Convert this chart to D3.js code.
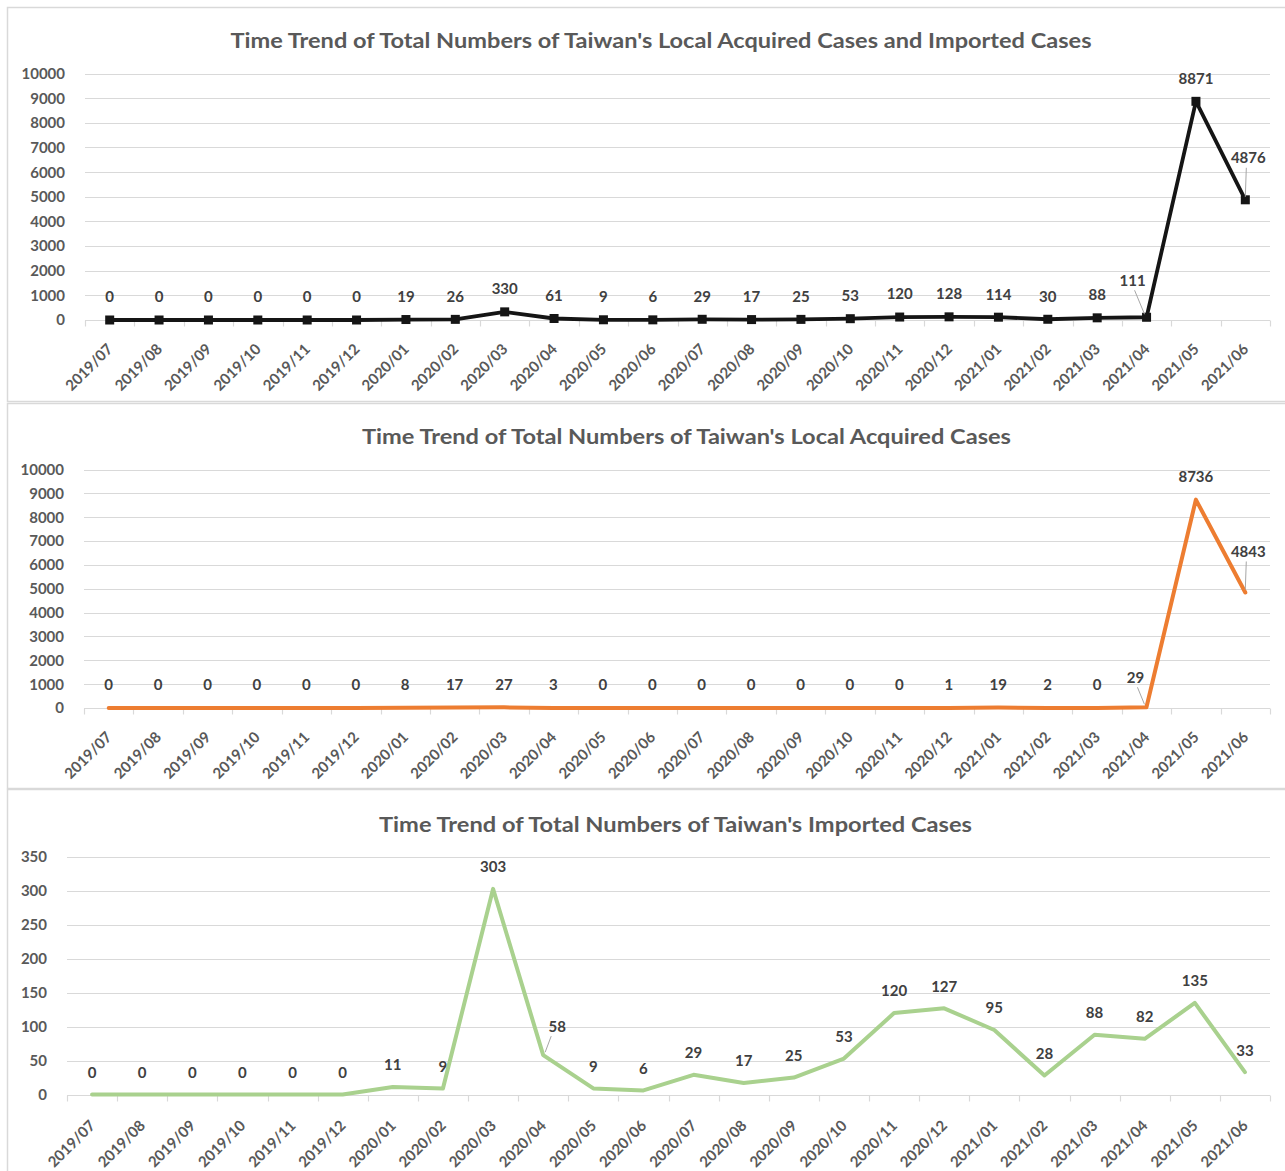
<!DOCTYPE html>
<html><head><meta charset="utf-8">
<script src="https://cdn.jsdelivr.net/npm/d3@7"></script>
<style>
body{margin:0;background:#fff}
svg{display:block}
text{font-family:Lato,"Open Sans",sans-serif;font-weight:bold}
</style>
</head><body>
<svg id="c" width="1285" height="1171"></svg>
<script>
// ---------- data ----------
const months = ["2019/07","2019/08","2019/09","2019/10","2019/11","2019/12",
  "2020/01","2020/02","2020/03","2020/04","2020/05","2020/06","2020/07","2020/08","2020/09","2020/10","2020/11","2020/12",
  "2021/01","2021/02","2021/03","2021/04","2021/05","2021/06"];
const totalCases    = [0,0,0,0,0,0, 19,26,330,61,9,6,29,17,25,53,120,128, 114,30,88,111,8871,4876];
const localCases    = [0,0,0,0,0,0, 8,17,27,3,0,0,0,0,0,0,0,1, 19,2,0,29,8736,4843];
const importedCases = [0,0,0,0,0,0, 11,9,303,58,9,6,29,17,25,53,120,127, 95,28,88,82,135,33];
const titleTotal    = "Time Trend of Total Numbers of Taiwan's Local Acquired Cases and Imported Cases";
const titleLocal    = "Time Trend of Total Numbers of Taiwan's Local Acquired Cases";
const titleImported = "Time Trend of Total Numbers of Taiwan's Imported Cases";
const yTicksTotal    = [0,1000,2000,3000,4000,5000,6000,7000,8000,9000,10000];
const yTicksLocal    = [0,1000,2000,3000,4000,5000,6000,7000,8000,9000,10000];
const yTicksImported = [0,50,100,150,200,250,300,350];

// ---------- drawing ----------
const svg = d3.select("#c");

function panel(cfg){
  const g = svg.append("g");
  g.append("rect")
    .attr("x", cfg.box[0]+0.5).attr("y", cfg.box[1]+0.5)
    .attr("width", cfg.box[2]).attr("height", cfg.box[3])
    .attr("fill","#fff").attr("stroke","#d9d9d9").attr("stroke-width",1.5);

  g.append("text")
    .attr("x", cfg.titleX).attr("y", cfg.titleY)
    .attr("text-anchor","middle")
    .attr("font-size", 20).attr("fill","#595959")
    .attr("textLength", cfg.titleW).attr("lengthAdjust","spacingAndGlyphs")
    .text(cfg.title);

  const x = d3.scaleBand().domain(months).range([cfg.left, cfg.right]);
  const y = d3.scaleLinear().domain([0, cfg.ticks[cfg.ticks.length-1]]).range([cfg.bottom, cfg.top]);
  const cx = m => x(m) + x.bandwidth()/2;

  // gridlines
  g.selectAll("line.grid").data(cfg.ticks.filter(t => t > 0)).join("line")
    .attr("x1", cfg.left).attr("x2", cfg.right)
    .attr("y1", d => Math.round(y(d))+0.5).attr("y2", d => Math.round(y(d))+0.5)
    .attr("stroke","#d9d9d9").attr("stroke-width",1);

  // y tick labels
  g.selectAll("text.yt").data(cfg.ticks).join("text")
    .attr("x", cfg.yLabelX).attr("y", d => y(d)).attr("dy","0.36em")
    .attr("text-anchor","end").attr("font-size",15).attr("fill","#595959")
    .text(d => d);

  // x axis line + ticks at band boundaries
  const by = Math.round(y(0))+0.5;
  g.append("line").attr("x1",cfg.left).attr("x2",cfg.right).attr("y1",by).attr("y2",by)
    .attr("stroke","#d9d9d9").attr("stroke-width",1.2);
  const bounds = months.map(m => x(m)).concat([cfg.right]);
  g.selectAll("line.xt").data(bounds).join("line")
    .attr("x1", d => Math.round(d)+0.5).attr("x2", d => Math.round(d)+0.5)
    .attr("y1", by).attr("y2", by+6)
    .attr("stroke","#d9d9d9").attr("stroke-width",1.2);

  // x labels
  g.selectAll("text.xl").data(months).join("text")
    .attr("transform", m => `translate(${cx(m)+4},${y(0)+cfg.xLabelDy}) rotate(-45)`)
    .attr("text-anchor","end").attr("font-size",15).attr("fill","#595959")
    .text(m => m);

  // line
  const pts = months.map((m,i) => ({m, v: cfg.values[i], i}));
  g.append("path").datum(pts)
    .attr("d", d3.line().x(d => cx(d.m)).y(d => y(d.v)))
    .attr("fill","none").attr("stroke", cfg.color).attr("stroke-width", cfg.lineW)
    .attr("stroke-linejoin","round").attr("stroke-linecap","round");

  if (cfg.markers){
    g.selectAll("rect.mk").data(pts).join("rect")
      .attr("x", d => cx(d.m)-4.5).attr("y", d => y(d.v)-4.5)
      .attr("width",9).attr("height",9).attr("fill", cfg.color);
  }

  // data labels
  pts.forEach(d => {
    const px = cx(d.m), py = y(d.v);
    const off = cfg.leaders[d.i];
    if (off){
      const lx = px + off[0], ly = py + off[1];
      g.append("line")
        .attr("x1", px + off[2]).attr("y1", py - 3)
        .attr("x2", lx + off[3]).attr("y2", ly + 10)
        .attr("stroke","#a6a6a6").attr("stroke-width",1);
      g.append("text").attr("x", lx).attr("y", ly).attr("dy","0.36em")
        .attr("text-anchor","middle").attr("font-size",15).attr("fill","#404040")
        .text(d.v);
    } else {
      g.append("text").attr("x", px).attr("y", py - cfg.labelGap).attr("dy","0.36em")
        .attr("text-anchor","middle").attr("font-size",15).attr("fill","#404040")
        .text(d.v);
    }
  });
}

panel({
  box:[7,7,1290,394], title:titleTotal, titleX:661, titleY:48, titleW:861,
  left:85, right:1270, top:73.5, bottom:320, ticks:yTicksTotal, yLabelX:65,
  values:totalCases, color:"#151515", lineW:3.8, markers:true, labelGap:23, xLabelDy:30,
  leaders:{21:[-14,-37,-2,2], 23:[3,-42,0,-2]}
});
panel({
  box:[7,403,1290,385], title:titleLocal, titleX:686.5, titleY:444, titleW:649,
  left:84, right:1270, top:469.5, bottom:708, ticks:yTicksLocal, yLabelX:64,
  values:localCases, color:"#ed7d31", lineW:4, markers:false, labelGap:23, xLabelDy:30,
  leaders:{21:[-11,-30,-2,2], 23:[3,-41,0,-2]}
});
panel({
  box:[7,789,1290,390], title:titleImported, titleX:675.5, titleY:832, titleW:593,
  left:67, right:1270, top:857, bottom:1094.5, ticks:yTicksImported, yLabelX:47,
  values:importedCases, color:"#a9d18e", lineW:4, markers:false, labelGap:22, xLabelDy:32,
  leaders:{9:[14,-29,2,-6]}
});
</script>
</body></html>
